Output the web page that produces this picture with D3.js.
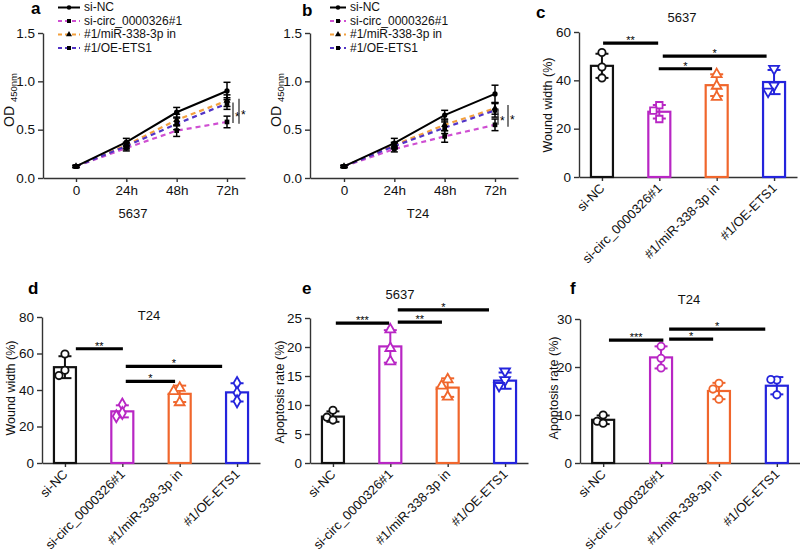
<!DOCTYPE html>
<html><head><meta charset="utf-8">
<script src="https://cdn.jsdelivr.net/npm/d3@7"></script>
<style>
body{margin:0;background:#fff}
svg{display:block}
</style></head><body>
<svg id="chart" width="800" height="551"></svg>
<script>
// ---------- DATA ----------
const groups = ["si-NC", "si-circ_0000326#1", "#1/miR-338-3p in", "#1/OE-ETS1"];
const timeLabels = ["0", "24h", "48h", "72h"];
const odTicks = [0, 0.5, 1.0, 1.5];

// Panel a (5637) CCK-8 OD450, one row per group
const odA = [[0.12, 0.37, 0.68, 0.90], [0.12, 0.31, 0.49, 0.58], [0.12, 0.34, 0.60, 0.80], [0.12, 0.33, 0.56, 0.77]];
const odAErr = [[0.01, 0.04, 0.05, 0.09], [0.01, 0.03, 0.06, 0.06], [0.01, 0.03, 0.06, 0.06], [0.01, 0.03, 0.06, 0.06]];
const sigA = [[0.57, 0.78, "*"], [0.56, 0.82, "*"]];
// Panel b (T24)
const odB = [[0.12, 0.36, 0.65, 0.87], [0.12, 0.30, 0.43, 0.55], [0.12, 0.34, 0.55, 0.72], [0.12, 0.33, 0.52, 0.70]];
const odBErr = [[0.01, 0.05, 0.05, 0.09], [0.01, 0.03, 0.06, 0.06], [0.01, 0.03, 0.06, 0.06], [0.01, 0.03, 0.06, 0.07]];
const sigB = [[0.55, 0.72, "*"], [0.53, 0.755, "*"]];

// Panel c: wound width 5637
const woundCMean = [46, 27, 38, 39.3];
const woundCSd = [5, 2.8, 4.5, 5];
const woundCPts = [[51.5, 45.5, 41], [29.7, 27.5, 24], [42.5, 37.7, 33.1], [44.8, 37.9, 35.4]];
const sigC = [[0.02, 0.98, 55.4, "**"], [1.06, 2.87, 50, "*"], [0.99, 1.92, 44.8, "*"]];
// Panel d: wound width T24
const woundDMean = [52.5, 28.3, 37.9, 38.7];
const woundDSd = [6, 3.3, 4.5, 5];
const woundDPts = [[59.7, 50.8, 47.9], [32, 27.4, 25.6], [41.1, 39.3, 33.2], [43.8, 38.4, 33.8]];
const sigD = [[0.19, 1.01, 62.6, "**"], [1.06, 2.74, 53, "*"], [1.06, 1.92, 44.7, "*"]];
// Panel e: apoptosis 5637
const apoEMean = [8, 20.1, 13.0, 14.2];
const apoESd = [0.9, 2.8, 1.6, 1.4];
const apoEPts = [[9.1, 7.9, 7.4], [23, 19.8, 17.5], [14.4, 13.3, 11.4], [15.8, 14.3, 13.3]];
const sigE = [[0.05, 0.98, 24.1, "***"], [1.13, 1.90, 24.3, "**"], [1.13, 2.72, 26.4, "*"]];
// Panel f: apoptosis T24
const apoFMean = [9.0, 22, 15.0, 16.1];
const apoFSd = [0.9, 2.3, 1.7, 1.8];
const apoFPts = [[10.0, 8.7, 8.3], [24.3, 21.8, 19.8], [16.6, 15.4, 13.3], [17.3, 17.4, 14.2]];
const sigF = [[0.10, 1.04, 25.6, "***"], [1.14, 1.90, 25.8, "*"], [1.14, 2.80, 27.9, "*"]];

// ---------- STYLE ----------
const FONT = "Arial, 'Liberation Sans', Helvetica, sans-serif";
const barColors = ["#111111", "#b826c4", "#f0662c", "#2424dc"];
const lineColors = ["#000000", "#cf4fd2", "#f3a03c", "#5234c6"];
const lineDash = [null, "5,4", "5,4", "5,4"];
const lineSyms = [d3.symbolCircle, d3.symbolSquare, d3.symbolTriangle, d3.symbolSquare];

const svg = d3.select("#chart").attr("font-family", FONT);

function styleAxis(g) {
  g.selectAll("path,line").attr("stroke", "#333").attr("stroke-width", 1.4);
  g.selectAll("text").attr("fill", "#111").attr("font-size", 13.5).attr("font-family", FONT);
}
function letter(txt, x, y) {
  svg.append("text").attr("x", x).attr("y", y).attr("font-size", 17).attr("font-weight", "bold").attr("fill", "#000").text(txt);
}

// ---------- LINE PANELS ----------
function linePanel(cfg) {
  const xs0 = d3.scaleLinear().domain([0, 3]).range([cfg.tx0, cfg.tx3]);
  const x = d3.scaleLinear().domain([xs0.invert(cfg.x0), xs0.invert(cfg.x1)]).range([cfg.x0, cfg.x1]);
  const y = d3.scaleLinear().domain([0, 1.5]).range([cfg.bottom, cfg.top]);
  const g = svg.append("g");

  g.append("g").attr("transform", `translate(0,${cfg.bottom})`)
    .call(d3.axisBottom(x).tickValues([0, 1, 2, 3]).tickFormat(i => timeLabels[i]).tickSize(4).tickSizeOuter(0))
    .call(styleAxis);
  g.append("g").attr("transform", `translate(${cfg.x0},0)`)
    .call(d3.axisLeft(y).tickValues(odTicks).tickFormat(d3.format(".1f")).tickSize(5).tickSizeOuter(0))
    .call(styleAxis);

  const line = d3.line().x((d, i) => x(i)).y(d => y(d));
  const order = [1, 2, 3, 0];
  order.forEach(k => {
    g.append("path").datum(cfg.data[k]).attr("d", line).attr("fill", "none")
      .attr("stroke", lineColors[k]).attr("stroke-width", k === 0 ? 2 : 2.2)
      .attr("stroke-dasharray", lineDash[k]);
  });
  order.forEach(k => {
    cfg.data[k].forEach((v, i) => {
      const e = cfg.err[k][i];
      g.append("line").attr("x1", x(i)).attr("x2", x(i)).attr("y1", y(v - e)).attr("y2", y(v + e)).attr("stroke", "#000").attr("stroke-width", 1.5);
      [v - e, v + e].forEach(w => g.append("line").attr("x1", x(i) - 3.5).attr("x2", x(i) + 3.5).attr("y1", y(w)).attr("y2", y(w)).attr("stroke", "#000").attr("stroke-width", 1.5));
      g.append("path").attr("transform", `translate(${x(i)},${y(v)})`).attr("d", d3.symbol().type(lineSyms[k]).size(22)).attr("fill", "#000");
    });
  });
  // significance
  cfg.sig.forEach((s, j) => {
    const sx = x(3) + cfg.sigOff[j];
    g.append("line").attr("x1", sx).attr("x2", sx).attr("y1", y(s[0])).attr("y2", y(s[1])).attr("stroke", "#333").attr("stroke-width", 1.3);
    g.append("text").attr("x", sx + 2).attr("y", y((s[0] + s[1]) / 2) + 8).attr("font-size", 12).attr("fill", "#000").text(s[2]);
  });
  // legend
  groups.forEach((name, k) => {
    const ly = cfg.legY[k];
    g.append("line").attr("x1", cfg.legX0).attr("x2", cfg.legX1).attr("y1", ly).attr("y2", ly)
      .attr("stroke", lineColors[k]).attr("stroke-width", 2).attr("stroke-dasharray", k === 0 ? null : "4,3");
    g.append("path").attr("transform", `translate(${(cfg.legX0 + cfg.legX1) / 2},${ly})`).attr("d", d3.symbol().type(lineSyms[k]).size(16)).attr("fill", "#000");
    g.append("text").attr("x", cfg.legX1 + 4).attr("y", ly).attr("dy", "0.33em").attr("font-size", 12).attr("fill", "#111").text(name);
  });
  // y label
  const yl = g.append("text").attr("transform", `translate(${cfg.ylabX},${cfg.ylabY}) rotate(-90)`)
    .attr("text-anchor", "middle").attr("dy", "0.35em").attr("font-size", 14).attr("fill", "#111");
  yl.append("tspan").text("OD ");
  yl.append("tspan").attr("font-size", 9.5).attr("dy", "0.35em").text("450nm");
  // x label
  g.append("text").attr("x", cfg.xlabX).attr("y", cfg.xlabY).attr("text-anchor", "middle").attr("font-size", 13).attr("fill", "#111").text(cfg.xlab);
  letter(cfg.letter, cfg.letterX, cfg.letterY);
}

linePanel({ x0: 43, x1: 245, tx0: 76, tx3: 227, top: 33, bottom: 178, data: odA, err: odAErr, sig: sigA, sigOff: [6, 12],
  legX0: 58, legX1: 80, legY: [7.5, 21, 34.5, 48], ylabX: 9, ylabY: 100, xlab: "5637", xlabX: 133, xlabY: 218,
  letter: "a", letterX: 31, letterY: 14 });
linePanel({ x0: 310, x1: 518, tx0: 344, tx3: 495, top: 33, bottom: 178, data: odB, err: odBErr, sig: sigB, sigOff: [3, 13],
  legX0: 330, legX1: 346, legY: [7.5, 21, 34.5, 48], ylabX: 276, ylabY: 100, xlab: "T24", xlabX: 418, xlabY: 218,
  letter: "b", letterX: 302, letterY: 16 });

// ---------- BAR PANELS ----------
function barPanel(cfg) {
  const x = d3.scalePoint().domain(groups).range([cfg.x0, cfg.x1]).padding(0.4);
  const step = x.step();
  const y = d3.scaleLinear().domain([0, cfg.ymax]).range([cfg.bottom, cfg.top]);
  const g = svg.append("g");

  const xa = g.append("g").attr("transform", `translate(0,${cfg.bottom})`)
    .call(d3.axisBottom(x).tickSize(4).tickSizeOuter(0)).call(styleAxis);
  xa.selectAll("text").attr("font-size", 13).attr("x", 0).attr("y", 0).attr("dy", 0)
    .attr("text-anchor", "end").attr("transform", "translate(3,12) rotate(-45)");
  g.append("g").attr("transform", `translate(${cfg.x0},0)`)
    .call(d3.axisLeft(y).tickValues(cfg.ticks).tickSize(5).tickSizeOuter(0)).call(styleAxis);

  const bw = 22;
  groups.forEach((gr, k) => {
    const cx = x(gr), m = cfg.mean[k], s = cfg.sd[k], col = barColors[k];
    g.append("rect").attr("x", cx - bw / 2).attr("y", y(m)).attr("width", bw).attr("height", y(0) - y(m))
      .attr("fill", "none").attr("stroke", col).attr("stroke-width", 2.2);
    g.append("line").attr("x1", cx).attr("x2", cx).attr("y1", y(m - s)).attr("y2", y(m + s)).attr("stroke", col).attr("stroke-width", 2);
    [m - s, m + s].forEach(w => g.append("line").attr("x1", cx - 6.5).attr("x2", cx + 6.5).attr("y1", y(w)).attr("y2", y(w)).attr("stroke", col).attr("stroke-width", 2));
    // points with simple overlap spreading
    const placed = [];
    cfg.pts[k].forEach(v => {
      const py = y(v);
      let off = 0;
      for (const o of [0, -6, 6]) {
        if (!placed.some(p => p.o === o && Math.abs(p.y - py) < 7)) { off = o; break; }
      }
      placed.push({ o: off, y: py });
      const sh = cfg.shapes[k];
      const rot = sh === "down" ? 180 : 0;
      const type = sh === "down" ? d3.symbolTriangle : sh;
      g.append("path").attr("transform", `translate(${cx + off},${py}) rotate(${rot})`)
        .attr("d", d3.symbol().type(type).size(42)).attr("fill", "#fff").attr("stroke", col).attr("stroke-width", 1.8);
    });
  });
  // significance bars
  const c0 = x(groups[0]);
  cfg.sig.forEach(s => {
    const xa1 = c0 + s[0] * step, xa2 = c0 + s[1] * step, yy = y(s[2]);
    g.append("line").attr("x1", xa1).attr("x2", xa2).attr("y1", yy).attr("y2", yy).attr("stroke", "#000").attr("stroke-width", 3.2);
    g.append("text").attr("x", (xa1 + xa2) / 2).attr("y", yy + 1).attr("text-anchor", "middle").attr("font-size", 11).attr("fill", "#000").text(s[3]);
  });
  g.append("text").attr("x", cfg.titleX).attr("y", cfg.titleY).attr("text-anchor", "middle").attr("font-size", 13).attr("fill", "#111").text(cfg.title);
  g.append("text").attr("transform", `translate(${cfg.ylabX},${cfg.ylabY}) rotate(-90)`).attr("text-anchor", "middle")
    .attr("dy", "0.35em").attr("font-size", 12.5).attr("fill", "#111").text(cfg.ylabel);
  letter(cfg.letter, cfg.letterX, cfg.letterY);
}

barPanel({ x0: 579, x1: 797, top: 32, bottom: 177, ymax: 60, ticks: [0, 20, 40, 60], mean: woundCMean, sd: woundCSd, pts: woundCPts, sig: sigC,
  shapes: [d3.symbolCircle, d3.symbolSquare, d3.symbolTriangle, "down"], title: "5637", titleX: 682, titleY: 22,
  ylabel: "Wound width (%)", ylabX: 548, ylabY: 105, letter: "c", letterX: 536, letterY: 18 });
barPanel({ x0: 42, x1: 260, top: 317, bottom: 463, ymax: 80, ticks: [0, 20, 40, 60, 80], mean: woundDMean, sd: woundDSd, pts: woundDPts, sig: sigD,
  shapes: [d3.symbolCircle, d3.symbolDiamond, d3.symbolTriangle, d3.symbolDiamond], title: "T24", titleX: 149, titleY: 320,
  ylabel: "Wound width (%)", ylabX: 11, ylabY: 388, letter: "d", letterX: 28, letterY: 294 });
barPanel({ x0: 310, x1: 528, top: 318, bottom: 463, ymax: 25, ticks: [0, 5, 10, 15, 20, 25], mean: apoEMean, sd: apoESd, pts: apoEPts, sig: sigE,
  shapes: [d3.symbolCircle, d3.symbolTriangle, d3.symbolTriangle, "down"], title: "5637", titleX: 400, titleY: 299,
  ylabel: "Apoptosis rate (%)", ylabX: 280, ylabY: 392, letter: "e", letterX: 302, letterY: 294 });
barPanel({ x0: 580, x1: 800, top: 319, bottom: 463, ymax: 30, ticks: [0, 10, 20, 30], mean: apoFMean, sd: apoFSd, pts: apoFPts, sig: sigF,
  shapes: [d3.symbolCircle, d3.symbolCircle, d3.symbolCircle, d3.symbolCircle], title: "T24", titleX: 689, titleY: 304,
  ylabel: "Apoptosis rate (%)", ylabX: 554, ylabY: 388, letter: "f", letterX: 570, letterY: 294 });
</script>
</body></html>
